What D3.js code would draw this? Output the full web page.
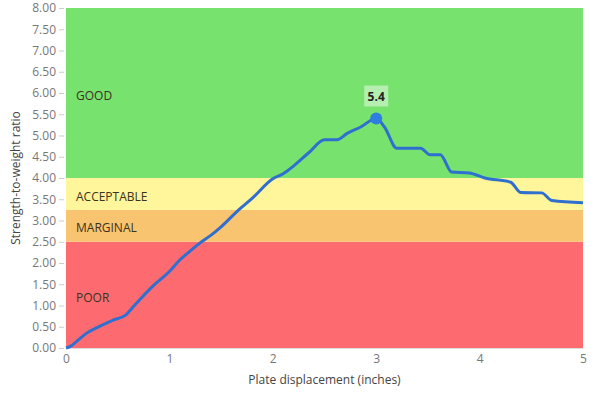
<!DOCTYPE html>
<html><head><meta charset="utf-8">
<script src="https://cdn.jsdelivr.net/npm/d3@7"></script>
<style>
body{margin:0;background:#fff;}
text{font-family:"Open Sans",sans-serif;}
</style></head>
<body><svg id="chart" width="600" height="395"></svg>
<script>
const displacement = [0,0.05,0.1,0.2,0.3,0.45,0.58,0.65,0.85,1.0,1.1,1.2,1.3,1.4,1.5,1.67,1.8,2.0,2.1,2.2,2.35,2.5,2.62,2.72,2.85,3.0,3.08,3.2,3.43,3.52,3.62,3.73,3.9,4.05,4.3,4.4,4.6,4.7,5.0];
const ratio =        [0,0.05,0.15,0.35,0.48,0.65,0.78,0.97,1.48,1.8,2.07,2.28,2.48,2.65,2.85,3.25,3.52,3.98,4.1,4.28,4.6,4.9,4.9,5.05,5.2,5.4,5.2,4.7,4.7,4.55,4.55,4.14,4.12,4.0,3.9,3.66,3.65,3.47,3.42];
const zoneNames = ["POOR","MARGINAL","ACCEPTABLE","GOOD"];
const zoneFrom  = [0,2.5,3.25,4];
const zoneTo    = [2.5,3.25,4,8];
const zoneLabelAt = [1.18,2.82,3.55,5.93];
const zoneColors = ["#fd6b71","#f9c46f","#fff59b","#77e26e"];
const xTicks = [0,1,2,3,4,5];
const yTicks = d3.range(0,8.01,0.5);
const peakX = 3.0, peakY = 5.4;

const svg = d3.select("#chart");
const m = {left:66,right:17,top:8,bottom:47};
const W = 600, H = 395;
const x = d3.scaleLinear().domain([0,5]).range([m.left, W-m.right]);
const y = d3.scaleLinear().domain([0,8]).range([H-m.bottom, m.top]);

// zones
zoneNames.forEach((n,i)=>{
  svg.append("rect").attr("x",x(0)).attr("width",x(5)-x(0))
    .attr("y",y(zoneTo[i])).attr("height",y(zoneFrom[i])-y(zoneTo[i]))
    .attr("fill",zoneColors[i]);
  svg.append("text").attr("x",x(0)+10).attr("y",y(zoneLabelAt[i]))
    .attr("dy","0.35em").attr("font-size",12).attr("fill","#3a3320").text(n);
});

// y axis
const ya = svg.append("g").attr("transform",`translate(${x(0)-2},0)`)
  .call(d3.axisLeft(y).tickValues(yTicks).tickFormat(d3.format(".2f")).tickSize(5).tickPadding(3));
ya.select(".domain").remove();
ya.selectAll("line").attr("stroke","#ccc");
ya.selectAll("text").attr("font-size",12).attr("fill","#777").attr("font-family","Open Sans");

// x axis
const xa = svg.append("g").attr("transform",`translate(0,${y(0)})`)
  .call(d3.axisBottom(x).tickValues(xTicks).tickFormat(d3.format("d")).tickSize(0).tickPadding(6));
xa.select(".domain").attr("stroke","#ddd");
xa.selectAll("text").attr("font-size",12).attr("fill","#777").attr("font-family","Open Sans");

// axis titles
svg.append("text").attr("x",(x(0)+x(5))/2).attr("y",384).attr("text-anchor","middle")
  .attr("font-size",12).attr("fill","#444").text("Plate displacement (inches)");
svg.append("text").attr("transform",`translate(20,${y(4)}) rotate(-90)`).attr("text-anchor","middle")
  .attr("font-size",12).attr("fill","#444").text("Strength-to-weight ratio");

// line
const pts = displacement.map((d,i)=>[d,ratio[i]]);
svg.append("path").datum(pts)
  .attr("d",d3.line().x(d=>x(d[0])).y(d=>y(d[1])).curve(d3.curveMonotoneX))
  .attr("fill","none").attr("stroke","#2f6fd0").attr("stroke-width",3).attr("stroke-linejoin","round");

// peak
svg.append("circle").attr("cx",x(peakX)).attr("cy",y(peakY)).attr("r",6).attr("fill","#2e7de0");
svg.append("rect").attr("x",x(peakX)-12).attr("y",y(peakY)-33).attr("width",24).attr("height",21)
  .attr("fill","#ffffff").attr("opacity",0.45);
svg.append("text").attr("x",x(peakX)).attr("y",y(peakY)-22).attr("dy","0.35em").attr("text-anchor","middle")
  .attr("font-size",12).attr("font-weight","bold").attr("fill","#222").text(peakY.toFixed(1));
</script></body></html>
